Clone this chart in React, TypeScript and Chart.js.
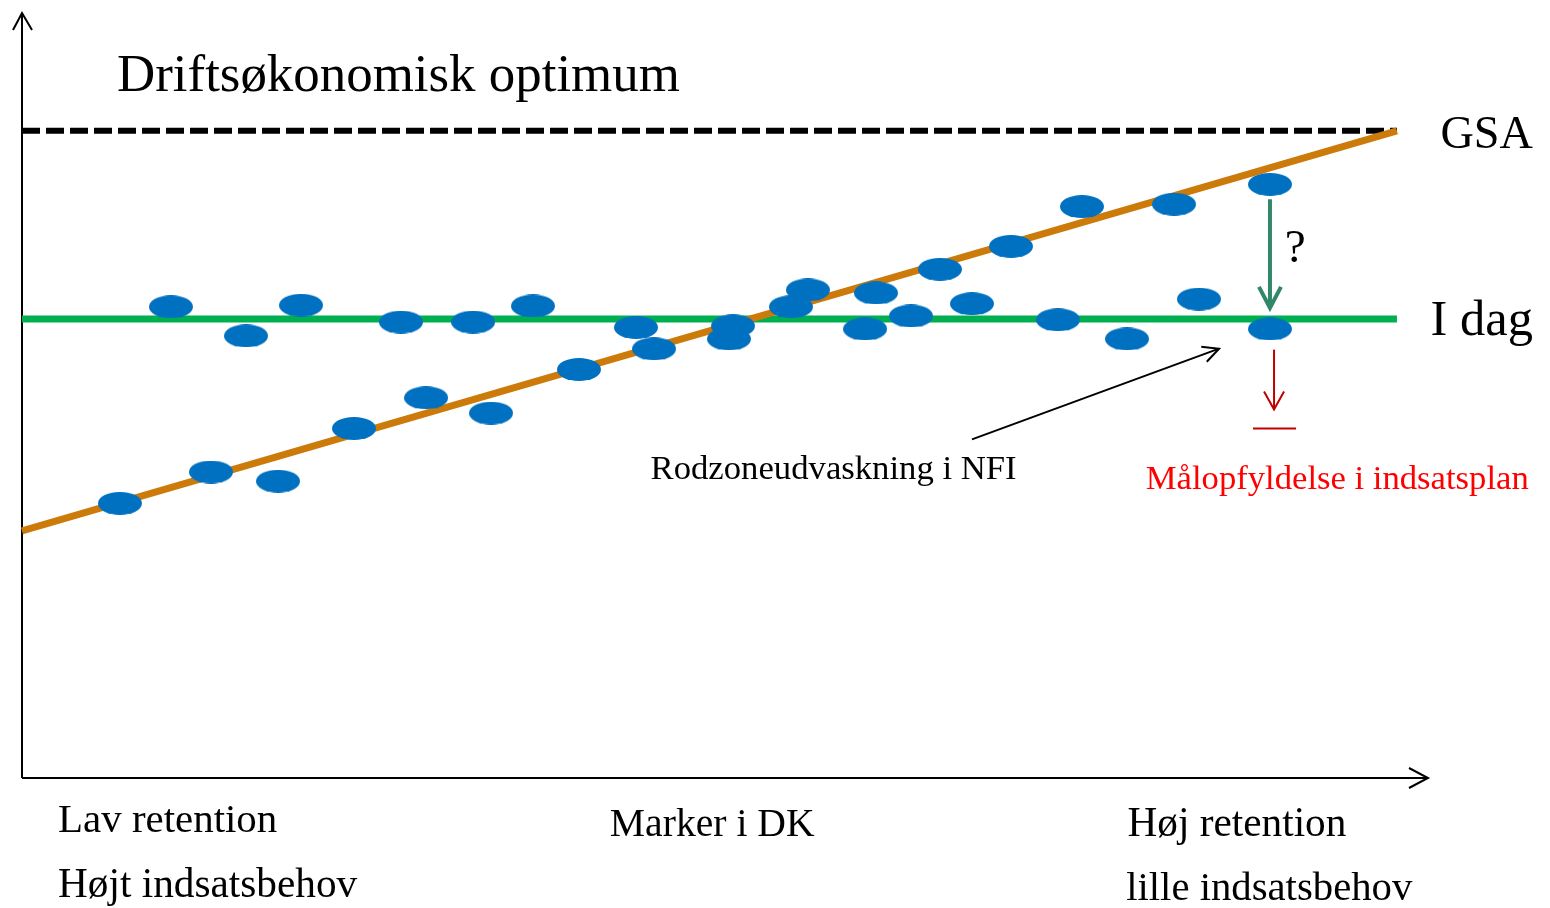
import React, { useEffect, useRef } from 'react';
import { Chart, registerables } from 'chart.js';

Chart.register(...registerables);

// ---- data (abstract units: x 0..100 along the x-axis, y 0..100 up the y-axis) ----
const POINT_X = [6.98, 10.62, 13.47, 15.97, 18.25, 19.89, 23.66, 27.01, 28.8, 32.15, 33.43, 36.42, 39.7, 43.76, 45.05, 50.39, 50.68, 54.81, 56.02, 60.09, 60.87, 63.36, 65.43, 67.71, 70.49, 73.84, 75.55, 78.76, 82.11, 83.89, 88.95, 88.95];
const POINT_Y = [35.9, 61.6, 40.0, 57.8, 38.8, 61.8, 45.7, 59.6, 49.7, 59.6, 47.7, 61.7, 53.4, 58.9, 56.1, 57.4, 59.1, 61.6, 63.8, 58.7, 63.4, 60.4, 66.5, 62.0, 69.5, 59.9, 74.7, 57.4, 75.0, 62.6, 77.6, 58.7];

const LINE_X = [0, 98];
const TODAY_Y = [60, 60];       // "I dag"
const GSA_Y = [84.6, 84.6];     // "GSA"
const TREND_Y = [32.3, 84.6];   // trend line

const LABELS = {
  title: 'Driftsøkonomisk optimum',
  gsa: 'GSA',
  today: 'I dag',
  question: '?',
  nfi: 'Rodzoneudvaskning i NFI',
  target: 'Målopfyldelse i indsatsplan',
  lowRet: 'Lav retention',
  highNeed: 'Højt indsatsbehov',
  fields: 'Marker i DK',
  highRet: 'Høj retention',
  lowNeed: 'lille indsatsbehov',
};

const FONT = '"Liberation Serif", "Times New Roman", serif';

function makeEllipse(w: number, h: number, color: string) {
  const c = document.createElement('canvas');
  c.width = w;
  c.height = h;
  const g = c.getContext('2d')!;
  g.fillStyle = color;
  g.beginPath();
  g.ellipse(w / 2, h / 2, w / 2, h / 2, 0, 0, Math.PI * 2);
  g.fill();
  return c;
}

function arrow(ctx: CanvasRenderingContext2D, x1: number, y1: number, x2: number, y2: number, color: string, width: number, headLen: number, headHalf: number) {
  const ang = Math.atan2(y2 - y1, x2 - x1);
  const ux = Math.cos(ang), uy = Math.sin(ang);
  ctx.save();
  ctx.strokeStyle = color;
  ctx.lineWidth = width;
  ctx.lineCap = 'butt';
  ctx.lineJoin = 'miter';
  ctx.beginPath();
  ctx.moveTo(x1, y1);
  ctx.lineTo(x2, y2);
  ctx.stroke();
  const bx = x2 - ux * headLen, by = y2 - uy * headLen;
  ctx.beginPath();
  ctx.moveTo(bx - uy * headHalf, by + ux * headHalf);
  ctx.lineTo(x2, y2);
  ctx.lineTo(bx + uy * headHalf, by - ux * headHalf);
  ctx.stroke();
  ctx.restore();
}

function fitText(ctx: CanvasRenderingContext2D, text: string, left: number, right: number, baseline: number, color: string) {
  ctx.save();
  ctx.font = `100px ${FONT}`;
  const w = ctx.measureText(text).width;
  const size = (100 * (right - left)) / w;
  ctx.font = `${size}px ${FONT}`;
  ctx.fillStyle = color;
  ctx.textAlign = 'left';
  ctx.textBaseline = 'alphabetic';
  ctx.fillText(text, left, baseline);
  ctx.restore();
}

const diagramPlugin = {
  id: 'diagram',
  beforeDatasetsDraw(chart: any) {
    const { ctx, chartArea } = chart;
    const { left, right, top, bottom } = chartArea;
    ctx.save();
    ctx.strokeStyle = '#000';
    ctx.lineWidth = 2;
    ctx.beginPath();
    ctx.moveTo(left, bottom);
    ctx.lineTo(left, top);
    ctx.moveTo(left, bottom);
    ctx.lineTo(right + 3, bottom);
    ctx.stroke();
    // arrowheads
    ctx.lineWidth = 2;
    ctx.beginPath();
    ctx.moveTo(left - 9, top + 17);
    ctx.lineTo(left, top);
    ctx.lineTo(left + 10, top + 17);
    ctx.moveTo(right - 16, bottom - 10);
    ctx.lineTo(right + 3, bottom);
    ctx.lineTo(right - 16, bottom + 10);
    ctx.stroke();
    ctx.restore();
  },
  afterDatasetsDraw(chart: any) {
    const { ctx } = chart;
    const xs = chart.scales.x, ys = chart.scales.y;
    const px = (v: number) => xs.getPixelForValue(v);
    const py = (v: number) => ys.getPixelForValue(v);

    // green "?" arrow
    arrow(ctx, px(88.95), py(75.65), px(88.95), py(61.46), '#31876A', 4, 21, 11);
    // black NFI arrow
    arrow(ctx, px(67.71), py(44.27), px(85.32), py(56.12), '#000000', 2, 16, 8);
    // red target arrow
    arrow(ctx, px(89.24), py(55.99), px(89.24), py(48.18), '#C00000', 2, 18, 10);
    // red target bar
    ctx.save();
    ctx.strokeStyle = '#C00000';
    ctx.lineWidth = 2;
    ctx.beginPath();
    ctx.moveTo(px(87.74), py(45.7));
    ctx.lineTo(px(90.81), py(45.7));
    ctx.stroke();
    ctx.restore();

    fitText(ctx, LABELS.title, px(6.77), px(46.9), py(89.8), '#000');
    fitText(ctx, LABELS.gsa, px(101.1), px(107.7), py(82.4), '#000');
    fitText(ctx, LABELS.today, px(100.4), px(107.7), py(57.9), '#000');
    fitText(ctx, LABELS.question, px(90.0), px(91.5), py(67.4), '#000');
    fitText(ctx, LABELS.nfi, px(44.8), px(70.9), py(39.1), '#000');
    fitText(ctx, LABELS.target, px(80.1), px(107.4), py(37.8), '#FF0000');
    fitText(ctx, LABELS.lowRet, px(2.57), px(18.2), py(-7.0), '#000');
    fitText(ctx, LABELS.highNeed, px(2.57), px(23.9), py(-15.5), '#000');
    fitText(ctx, LABELS.fields, px(41.9), px(56.5), py(-7.55), '#000');
    fitText(ctx, LABELS.highRet, px(78.8), px(94.4), py(-7.55), '#000');
    fitText(ctx, LABELS.lowNeed, px(78.7), px(99.1), py(-15.9), '#000');
  },
};

export default function App() {
  const ref = useRef<HTMLCanvasElement>(null);
  useEffect(() => {
    document.body.style.margin = '0';
    const canvas = ref.current!;
    const dot = makeEllipse(44, 23, '#0070C0');
    const pts = POINT_X.map((x, i) => ({ x, y: POINT_Y[i] }));
    const line = (ys: number[]) => LINE_X.map((x, i) => ({ x, y: ys[i] }));
    const chart = new Chart(canvas, {
      type: 'scatter',
      data: {
        datasets: [
          {
            data: pts,
            pointStyle: dot as any,
            pointRadius: 12,
            order: 0,
            clip: false as any,
          },
          {
            data: line(TREND_Y),
            showLine: true,
            borderColor: '#CC7A0A',
            borderWidth: 7,
            pointRadius: 0,
            order: 1,
            clip: false as any,
          },
          {
            data: line(TODAY_Y),
            showLine: true,
            borderColor: '#00B050',
            borderWidth: 7,
            pointRadius: 0,
            order: 2,
            clip: false as any,
          },
          {
            data: line(GSA_Y),
            showLine: true,
            borderColor: '#000000',
            borderWidth: 6,
            borderDash: [18, 6],
            pointRadius: 0,
            order: 3,
            clip: false as any,
          },
        ],
      },
      options: {
        responsive: false,
        animation: false,
        events: [],
        layout: { padding: { left: 22, top: 10, right: 125, bottom: 130 } },
        plugins: { legend: { display: false }, tooltip: { enabled: false } },
        scales: {
          x: { type: 'linear', min: 0, max: 100, display: false },
          y: { type: 'linear', min: 0, max: 100, display: false },
        },
      },
      plugins: [diagramPlugin],
    });
    return () => chart.destroy();
  }, []);
  return (
    <div style={{ position: 'fixed', left: 0, top: 0, width: 1550, height: 908, background: '#fff' }}>
      <canvas ref={ref} width={1550} height={908} />
    </div>
  );
}
